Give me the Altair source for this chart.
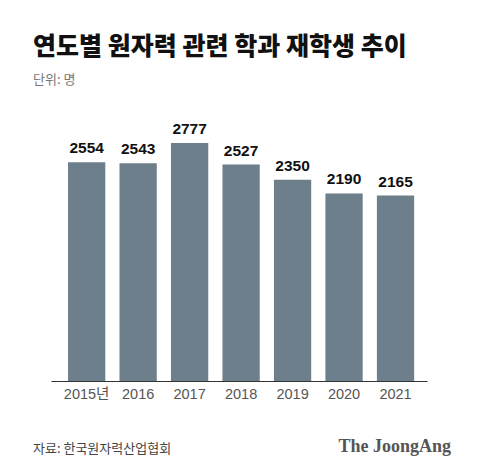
import altair as alt
import pandas as pd

years = ["2015년", "2016", "2017", "2018", "2019", "2020", "2021"]
students = [2554, 2543, 2777, 2527, 2350, 2190, 2165]

title_text = "연도별 원자력 관련 학과 재학생 추이"
unit_text = "단위: 명"
source_text = "자료: 한국원자력산업협회"
logo_text = "The JoongAng"

df = pd.DataFrame({"year": years, "value": students})

KR = "Noto Sans CJK KR"
LAT = "Liberation Sans, Noto Sans CJK KR"

W, H = 376, 257

x_enc = alt.X(
    "year:N",
    sort=years,
    scale=alt.Scale(paddingInner=0.276, paddingOuter=0.29, align=0.57),
    axis=alt.Axis(
        title=None,
        labelAngle=0,
        ticks=False,
        labelPadding=6,
        labelFontSize=14.5,
        labelColor="#555555",
        labelFont=LAT,
        domainColor="#333333",
        domainWidth=1.2,
        grid=False,
    ),
)
y_enc = alt.Y("value:Q", scale=alt.Scale(domain=[0, 3000]), axis=None)

base = alt.Chart(df).encode(x=x_enc, y=y_enc)

bars = base.mark_bar(color="#6e7f8c")
labels = base.mark_text(
    dy=-6, baseline="bottom", fontSize=15.5, fontWeight="bold", font=LAT, color="#111111"
).encode(text="value:Q")

foot = pd.DataFrame({"t": [source_text]})
source = alt.Chart(foot).mark_text(
    align="left", baseline="middle", fontSize=13, font=KR, color="#444444"
).encode(x=alt.value(-18), y=alt.value(H + 68), text="t:N")

logo_df = pd.DataFrame({"t": [logo_text]})
logo = alt.Chart(logo_df).mark_text(
    align="right", baseline="middle", fontSize=18, font="Liberation Serif", fontWeight="bold",
    color="#555555"
).encode(x=alt.value(W + 24), y=alt.value(H + 66), text="t:N")

chart = alt.layer(bars, labels, source, logo).properties(
    width=W,
    height=H,
    background="white",
    autosize=alt.AutoSizeParams(type="none"),
    padding={"left": 43, "top": 116, "right": 45, "bottom": 85},
    title=alt.TitleParams(
        text=title_text,
        subtitle=unit_text,
        anchor="start",
        frame="group",
        dx=-18,
        offset=35,
        font=KR,
        fontSize=25,
        fontWeight=900,
        color="#111111",
        subtitleFont=KR,
        subtitleFontSize=13,
        subtitleColor="#777777",
        subtitlePadding=14,
    ),
).configure_view(strokeWidth=0, stroke="transparent")

chart.save("out.html", embed_options={"renderer": "svg", "actions": False})
